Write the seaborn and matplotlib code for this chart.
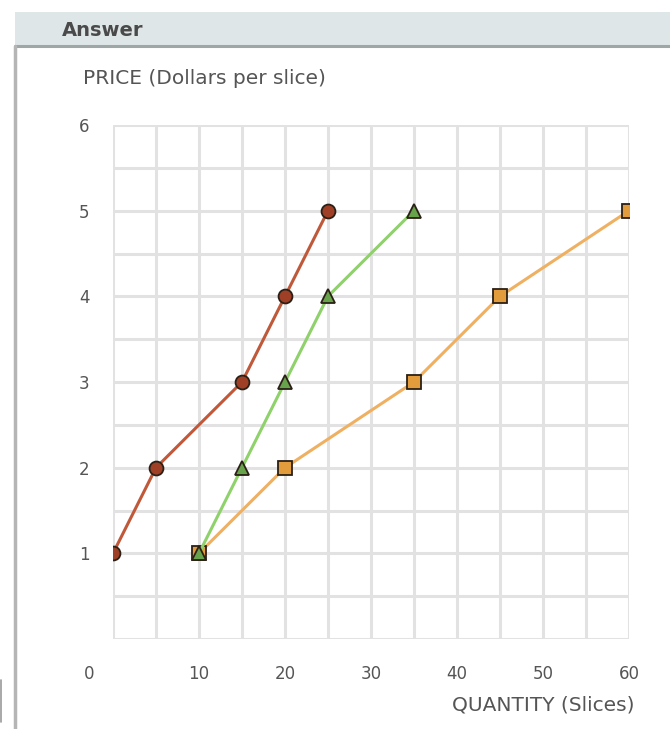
import matplotlib
matplotlib.use("Agg")
import matplotlib.pyplot as plt
import matplotlib.transforms as mtransforms
from matplotlib.patches import Rectangle
from matplotlib.lines import Line2D
import seaborn as sns
import pandas as pd

# ---- data ----
red_qty = [0, 5, 15, 20, 25]
red_price = [1, 2, 3, 4, 5]
green_qty = [10, 15, 20, 25, 35]
green_price = [1, 2, 3, 4, 5]
orange_qty = [10, 20, 35, 45, 60]
orange_price = [1, 2, 3, 4, 5]
x_ticks = [0, 10, 20, 30, 40, 50, 60]
y_ticks = [1, 2, 3, 4, 5, 6]

df = pd.concat([
    pd.DataFrame({"qty": orange_qty, "price": orange_price, "s": "orange"}),
    pd.DataFrame({"qty": red_qty, "price": red_price, "s": "red"}),
    pd.DataFrame({"qty": green_qty, "price": green_price, "s": "green"}),
], ignore_index=True)

sns.set_theme(style="white")
plt.rcParams["font.family"] = ["DejaVu Sans"]

W, H = 670, 729
fig = plt.figure(figsize=(W / 100, H / 100), dpi=100)
fig.patch.set_facecolor("white")

# header bar
fig.add_artist(Rectangle((15 / W, 1 - 46 / H), 1 - 15 / W, 34 / H,
                         transform=fig.transFigure, facecolor="#dfe6e8",
                         edgecolor="none", zorder=0))
fig.add_artist(Line2D([15 / W, 1], [1 - 46 / H, 1 - 46 / H],
                      transform=fig.transFigure, color="#9ea6a6", lw=2.2))
fig.add_artist(Line2D([15 / W, 15 / W], [1 - 46 / H, 0],
                      transform=fig.transFigure, color="#b5b5b5", lw=2.5))
fig.add_artist(Line2D([1 / W, 1 / W], [1 - 680 / H, 1 - 722 / H],
                      transform=fig.transFigure, color="#999999", lw=1.2))
fig.text(62 / W, 1 - 31 / H, "Answer", fontsize=14, fontweight="bold",
         color="#4a4a4a", va="center", ha="left")
fig.text(83 / W, 1 - 78 / H, "PRICE (Dollars per slice)", fontsize=14.5,
         color="#555555", va="center", ha="left")
fig.text(634 / W, 1 - 705 / H, "QUANTITY (Slices)", fontsize=14.5,
         color="#555555", va="center", ha="right")

ax = fig.add_axes([113 / W, 1 - 639 / H, (629 - 113) / W, (639 - 125) / H])
ax.set_xlim(0, 60)
ax.set_ylim(0, 6)

# grid
for gx in range(0, 61, 5):
    ax.axvline(gx, color="#e2e2e2", lw=2.2, zorder=0)
for gy in [i * 0.5 for i in range(13)]:
    ax.axhline(gy, color="#e2e2e2", lw=2.2, zorder=0)

palette = {"red": "#c0583a", "green": "#8fd16a", "orange": "#efb062"}
markers = {"red": "o", "green": "^", "orange": "s"}
sns.lineplot(data=df, x="qty", y="price", hue="s", style="s",
             palette=palette, markers=markers, dashes=False, sort=False,
             lw=2.2, markersize=10, markeredgecolor="#2b2016",
             markeredgewidth=1.3, legend=False, ax=ax, zorder=3)
# marker face colors
face = {"red": "#9e3f26", "green": "#66a34a", "orange": "#e39c3c"}
for line, key in zip(ax.get_lines()[-3:], ["orange", "red", "green"]):
    line.set_markerfacecolor(face[key])

for sp in ax.spines.values():
    sp.set_visible(False)
ax.set_xlabel("")
ax.set_ylabel("")
ax.set_xticks(x_ticks)
ax.set_yticks(y_ticks)
ax.set_xticklabels([str(v) for v in x_ticks])
ax.set_yticklabels([str(v) for v in y_ticks])
ax.tick_params(axis="both", length=0, labelsize=12, colors="#555555")
ax.tick_params(axis="x", pad=19)
ax.tick_params(axis="y", pad=17)
# shift the "0" label left as in the reference
lbl0 = ax.get_xticklabels()[0]
lbl0.set_transform(lbl0.get_transform() +
                   mtransforms.ScaledTranslation(-0.24, 0, fig.dpi_scale_trans))

fig.savefig("out.png", dpi=100, facecolor="white")
